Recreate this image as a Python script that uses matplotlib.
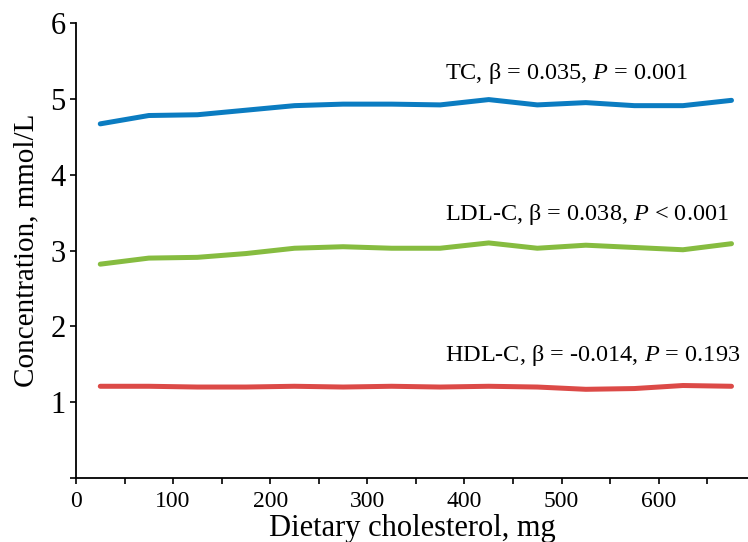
import matplotlib
matplotlib.use("Agg")
import matplotlib.pyplot as plt
from matplotlib.ticker import MultipleLocator

plt.rcParams['font.family'] = ['Liberation Serif', 'DejaVu Serif']
plt.rcParams['mathtext.fontset'] = 'custom'
plt.rcParams['mathtext.rm'] = 'Liberation Serif'
plt.rcParams['mathtext.it'] = 'Liberation Serif:italic'

# dietary cholesterol bins (mg, midpoints)
chol = [25, 75, 125, 175, 225, 275, 325, 375, 425, 475, 525, 575, 625, 675]

# concentrations, mmol/L
tc = [4.67, 4.78, 4.79, 4.85, 4.91, 4.93, 4.93, 4.92, 4.99, 4.92, 4.95, 4.91, 4.91, 4.98]
ldl = [2.82, 2.90, 2.91, 2.96, 3.03, 3.05, 3.03, 3.03, 3.10, 3.03, 3.07, 3.04, 3.01, 3.09]
hdl = [1.21, 1.21, 1.20, 1.20, 1.21, 1.20, 1.21, 1.20, 1.21, 1.20, 1.17, 1.18, 1.22, 1.21]

labels = [r'TC, β = 0.035, $\mathit{P}$ = 0.001',
          r'LDL-C, β = 0.038, $\mathit{P}$ < 0.001',
          r'HDL-C, β = -0.014, $\mathit{P}$ = 0.193']
label_y = [5.33, 3.47, 1.62]
colors = ['#0b7cc1', '#86bc40', '#dc4a47']

fig = plt.figure(figsize=(7.48, 5.42), dpi=100)
ax = fig.add_axes([0.1016, 0.118, 0.8984, 0.8396])

for vals, c in zip([tc, ldl, hdl], colors):
    ax.plot(chol, vals, color=c, lw=3.6, solid_capstyle='round')

for txt, y in zip(labels, label_y):
    ax.text(380, y, txt, fontsize=17.5, ha='left', va='center')

ax.set_xlim(0, 692)
ax.set_ylim(0, 6)
ax.xaxis.set_major_locator(MultipleLocator(100))
ax.xaxis.set_minor_locator(MultipleLocator(50))
ax.set_yticks([0, 1, 2, 3, 4, 5, 6])
ax.set_yticklabels(['', '1', '2', '3', '4', '5', '6'])

for s in ['top', 'right']:
    ax.spines[s].set_visible(False)
for s in ['left', 'bottom']:
    ax.spines[s].set_linewidth(1.3)

ax.tick_params(axis='y', which='major', length=4.5, width=1.2, labelsize=22, pad=3)
ax.tick_params(axis='x', which='both', length=4.5, width=1.2, labelsize=17, pad=5)

# the "0" label sits a little lower in the original
ax.xaxis.get_major_ticks()[0].set_pad(8)

ax.set_xlabel('Dietary cholesterol, mg', fontsize=22, labelpad=1)
ax.set_ylabel('Concentration, mmol/L', fontsize=21, labelpad=8)

fig.savefig('out.png', dpi=100)
